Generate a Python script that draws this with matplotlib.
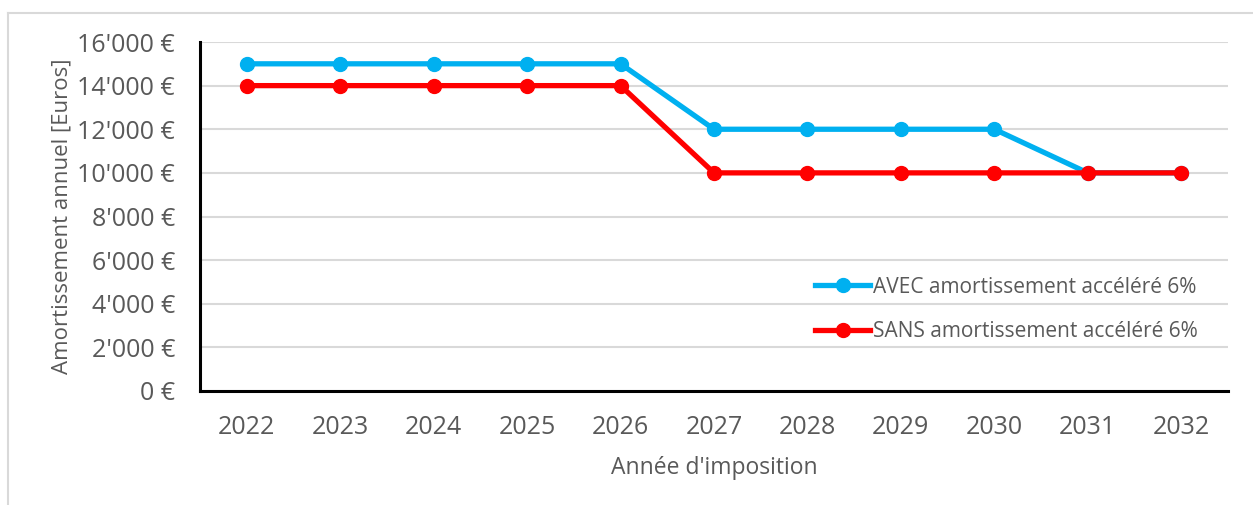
import matplotlib
matplotlib.use("Agg")
import matplotlib.pyplot as plt
from matplotlib.ticker import FuncFormatter
from matplotlib.lines import Line2D

years = ["2022", "2023", "2024", "2025", "2026", "2027", "2028", "2029", "2030", "2031", "2032"]
avec = [15000, 15000, 15000, 15000, 15000, 12000, 12000, 12000, 12000, 10000, 10000]
sans = [14000, 14000, 14000, 14000, 14000, 10000, 10000, 10000, 10000, 10000, 10000]
label_avec = "AVEC amortissement accéléré 6%"
label_sans = "SANS amortissement accéléré 6%"

plt.rcParams['font.family'] = ['Open Sans', 'DejaVu Sans']
txt = '#595959'
W, H = 1253, 505
fig = plt.figure(figsize=(W / 100, H / 100), dpi=100)
ax = fig.add_axes([200 / W, 1 - 391 / H, (1228 - 200) / W, (391 - 42) / H])

x = list(range(len(years)))
ax.plot(x, avec, color='#00B0F0', lw=3.8, marker='o', ms=10, label=label_avec, zorder=3)
ax.plot(x, sans, color='#FF0000', lw=3.8, marker='o', ms=10, label=label_sans, zorder=3)

ax.set_xlim(-0.5, len(years) - 0.5)
ax.set_ylim(0, 16000)
ax.set_yticks(range(0, 16001, 2000))
ax.yaxis.set_major_formatter(FuncFormatter(lambda v, p: f"{int(v):,} €".replace(",", "'")))
ax.set_xticks(x)
ax.set_xticklabels(years)
ax.tick_params(axis='both', length=0, labelsize=18, colors=txt)
ax.tick_params(axis='x', pad=17)
ax.tick_params(axis='y', pad=18)
ax.grid(axis='y', color='#D9D9D9', lw=1.5, zorder=0)
ax.set_axisbelow(True)
for s in ['top', 'right']:
    ax.spines[s].set_visible(False)
for s in ['left', 'bottom']:
    ax.spines[s].set_color('black')
    ax.spines[s].set_linewidth(2.2)

ax.set_xlabel("Année d'imposition", fontsize=16.5, color=txt, labelpad=12)
ax.set_ylabel("Amortissement annuel [Euros]", fontsize=16, color=txt, labelpad=3.5)

handles = [Line2D([], [], color='#00B0F0', lw=3.8, marker='o', ms=10),
           Line2D([], [], color='#FF0000', lw=3.8, marker='o', ms=10)]
leg = ax.legend(handles, [label_avec, label_sans], loc='center left',
                bbox_to_anchor=((815 - 200) / 1028, (391 - 309.5) / 349),
                frameon=False, fontsize=15, handlelength=2.65, handletextpad=0.15,
                labelspacing=1.15, borderpad=0, borderaxespad=0)
for t in leg.get_texts():
    t.set_color(txt)

# outer chart border
fig.add_artist(Line2D([8 / W, 8 / W], [0, 1 - 13 / H], transform=fig.transFigure, color='#D9D9D9', lw=1.5))
fig.add_artist(Line2D([8 / W, 1252 / W], [1 - 13 / H, 1 - 13 / H], transform=fig.transFigure, color='#D9D9D9', lw=1.5))

fig.savefig("out.png", dpi=100)
